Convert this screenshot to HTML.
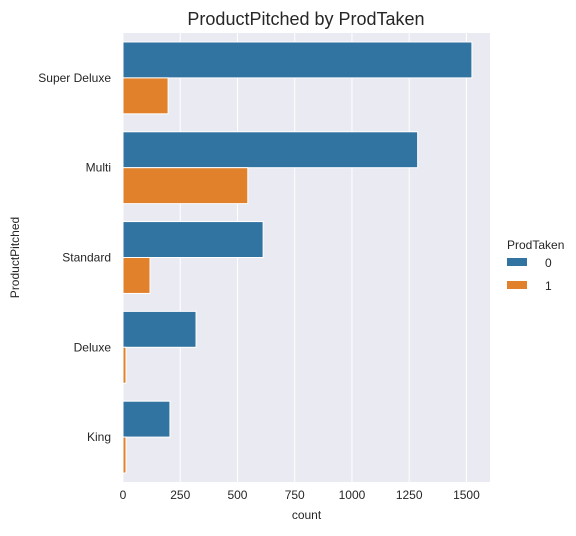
<!DOCTYPE html>
<html><head><meta charset="utf-8"><style>
body{margin:0;background:#fff;font-family:"Liberation Sans",sans-serif}
</style></head><body>
<svg width="576" height="531" xmlns="http://www.w3.org/2000/svg" font-family="Liberation Sans, sans-serif">
<rect width="576" height="531" fill="#fff"/>
<g id="root"></g>
</svg>
<script>
const categories=["Super Deluxe","Multi","Standard","Deluxe","King"];
const series0=[1524,1287,612,319,205];
const series1=[197,545,118,13,13];
const xTicks=[0,250,500,750,1000,1250,1500];
const seriesNames=["0","1"];
const colors=["#3274a1","#e1812c"];
const L=123,R=490,T=33,B=482,XMAX=1603;
const NS="http://www.w3.org/2000/svg";
const root=document.getElementById('root');
const x=v=>L+v/XMAX*(R-L);
const band=(B-T)/categories.length;
function mk(t,a,txt){const e=document.createElementNS(NS,t);for(const k in a)e.setAttribute(k,a[k]);if(txt!==undefined)e.textContent=txt;root.appendChild(e);return e;}
let bg=mk('rect',{x:L,y:T,width:R-L,height:B-T,fill:'#eaeaf2'});


xTicks.forEach(t=>{
 let g=mk('line',{x1:x(t),x2:x(t),y1:T,y2:B,stroke:'#fff','stroke-width':1});
 
 
 let l=mk('text',{x:x(t),y:B+17,'text-anchor':'middle','font-size':12,fill:'#262626'},String(t));
 
 
});
[series0,series1].forEach((s,si)=>{
 s.forEach((v,i)=>{
  const y0=T+band*i+band*0.1+si*band*0.4;
  let r=mk('rect',{x:L,y:y0,width:x(v)-L,height:band*0.4,fill:colors[si],stroke:'#fff','stroke-width':1});
  
  
 });
});
categories.forEach((c,i)=>{
 let l=mk('text',{x:L-12,y:T+band*(i+0.5)+4,'text-anchor':'end','font-size':12,fill:'#262626'},c);
 
 
});
let xt=mk('text',{x:(L+R)/2,y:519,'text-anchor':'middle','font-size':12,fill:'#262626'},'count');


let yt=mk('text',{x:19,y:(T+B)/2,'text-anchor':'middle','font-size':12,fill:'#262626',transform:'rotate(-90 19 '+((T+B)/2)+')'},'ProductPitched');


let tt=mk('text',{x:306,y:25,'text-anchor':'middle','font-size':18,fill:'#262626'},'ProductPitched by ProdTaken');


let lt=mk('text',{x:507,y:249,'font-size':12,fill:'#262626'},'ProdTaken');


seriesNames.forEach((n,i)=>{
 let p=mk('rect',{x:507,y:258+i*23,width:20,height:8,fill:colors[i]});
 
 
 let t=mk('text',{x:545,y:267+i*23,'font-size':12,fill:'#262626'},n);
 
 
});
</script>
</body></html>
